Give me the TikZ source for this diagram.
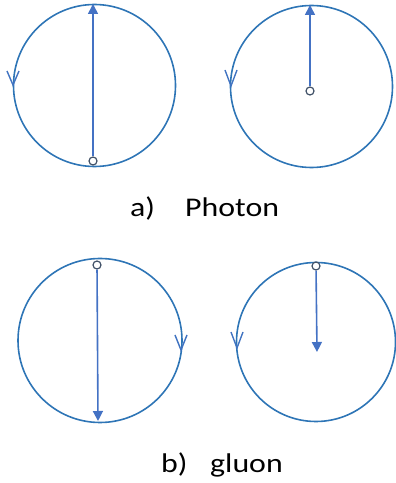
\documentclass[tikz,border=0pt]{standalone}
\usepackage{fontspec}
\setmainfont{Carlito}
\usetikzlibrary{arrows.meta}
\definecolor{ringblue}{RGB}{46,117,182}
\definecolor{arrowblue}{RGB}{68,114,196}
\definecolor{dotgray}{RGB}{68,84,106}
\begin{document}
\begin{tikzpicture}[x=1pt,y=1pt,
  ring/.style={draw=ringblue,line width=1.6pt},
  chev/.style={draw=arrowblue!80!ringblue,line width=1.4pt,line join=miter},
  vec/.style={draw=arrowblue,line width=1.6pt,-{Triangle[length=10pt,width=10pt]}},
  dot/.style={circle,draw=dotgray,fill=white,line width=1.2pt,inner sep=0pt,minimum size=8pt},
  lbl/.style={font=\fontsize{27}{32}\selectfont,anchor=base west,inner sep=0pt}]
\useasboundingbox (0,0) rectangle (396,483);
% a) photon
\draw[ring] (94.5,397.5) circle (81);
\node[dot] (d1) at (93,322) {};
\coordinate (t1) at (93,479);
\draw[vec] (d1) -- (t1);
\draw[chev] (7,412) -- (13,398) -- (19,412);

\draw[ring] (311.5,396.5) circle (81);
\node[dot] (d2) at (310,392) {};
\coordinate (t2) at (310,478);
\draw[vec] (d2) -- (t2);
\draw[chev] (225,413) -- (231,397) -- (237,413);

\node[lbl] (la) at (130,266) {\scalebox{1.18}[1]{a)}};
\node[lbl] (lp) at (185,266) {\scalebox{1.18}[1]{Photon}};

% b) gluon
\draw[ring] (100,142.5) circle (82);
\node[dot] (d3) at (97,218) {};
\coordinate (t3) at (98,62);
\draw[vec] (d3) -- (t3);
\draw[chev] (175,148) -- (181,133) -- (187,148);

\draw[ring] (316,141) circle (79.5);
\node[dot] (d4) at (316,217) {};
\coordinate (t4) at (317,131);
\draw[vec] (d4) -- (t4);
\draw[chev] (231,151) -- (237,135) -- (243,151);

\node[lbl] (lb) at (161,10) {\scalebox{1.18}[1]{b)}};
\node[lbl] (lg) at (210,10) {\scalebox{1.18}[1]{gluon}};
\end{tikzpicture}
\end{document}
